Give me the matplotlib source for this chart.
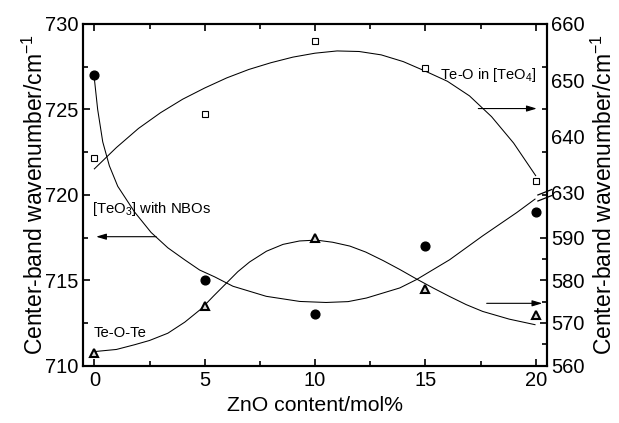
import matplotlib
matplotlib.use("Agg")
import matplotlib.pyplot as plt
import numpy as np

plt.rcParams["font.family"] = ["Liberation Sans", "DejaVu Sans"]
plt.rcParams["mathtext.fontset"] = "custom"
plt.rcParams["mathtext.rm"] = "Liberation Sans"
plt.rcParams["mathtext.it"] = "Liberation Sans:italic"

# ZnO content (mol%)
zno = [0, 5, 10, 15, 20]

# [TeO3] with NBOs, left axis (cm-1)
teo3 = [727.0, 715.0, 713.0, 717.0, 719.0]
# Te-O in [TeO4], right axis upper part (cm-1)
teo4 = [636.1, 644.0, 657.0, 652.1, 632.1]
# Te-O-Te, right axis lower part (cm-1)
teote = [562.9, 573.9, 589.8, 578.0, 571.9]

# fitted curves
teo3_fit_x = [0, 0.15, 0.38, 0.68, 1.06, 1.82, 2.57, 3.33, 4.09, 4.77, 5.45, 6.28,
              7.79, 9.31, 10.5, 11.5, 12.33, 13.84, 14.6, 16.1, 17.6, 19.14, 19.97]
teo3_fit_y = [726.8, 725.0, 723.1, 721.7, 720.5, 719.0, 717.8, 716.9, 716.2, 715.6,
              715.2, 714.65, 714.06, 713.76, 713.7, 713.75, 713.96, 714.55, 715.04,
              716.2, 717.6, 718.96, 719.75]

teo4_fit_x = list(range(0, 21))
teo4_fit_y = [634.2, 638.0, 641.4, 644.2, 646.6, 648.6, 650.4, 651.9, 653.1, 654.1,
              654.8, 655.2, 655.1, 654.5, 653.3, 651.6, 649.8, 647.2, 643.5, 638.8, 633.0]

teote_fit_x = [0, 1.0, 1.82, 2.5, 3.33, 4.1, 4.84, 5.4, 5.98, 6.5, 7.04, 7.8, 8.55,
               9.3, 10.06, 10.8, 11.58, 12.3, 13.09, 13.85, 14.6, 15.35, 16.1, 16.85,
               17.6, 18.8, 19.97]
teote_fit_y = [563.3, 563.8, 564.9, 565.9, 567.6, 570.2, 573.3, 576.3, 579.3, 582.0,
               584.3, 586.8, 588.4, 589.2, 589.4, 588.9, 588.0, 586.6, 584.6, 582.5,
               580.3, 578.2, 576.2, 574.3, 572.7, 570.9, 569.6]

left_ticks = [710, 715, 720, 725, 730]
right_upper_ticks = [630, 640, 650, 660]
right_lower_ticks = [560, 570, 580, 590]


def to_left(v):
    # broken right axis: map right-axis values onto the left-axis scale
    v = np.asarray(v, dtype=float)
    return np.where(v >= 620, 730 - (660 - v) * 0.3287, 710 + (v - 560) / 4.0)


fig = plt.figure(figsize=(6.19, 4.23), dpi=100)
ax = fig.add_axes([0.1346, 0.1355, 0.7486, 0.8078])

lw = 0.75
ax.plot(teo3_fit_x, teo3_fit_y, color="black", lw=lw)
ax.plot(teo4_fit_x, to_left(teo4_fit_y), color="black", lw=lw)
ax.plot(teote_fit_x, to_left(teote_fit_y), color="black", lw=lw)

ax.plot(zno, teo3, "o", color="black", ms=6.3, zorder=3)
ax.plot(zno, to_left(teo4), "s", mfc="white", mec="black", ms=5, mew=0.8, zorder=3)
ax.plot(zno, to_left(teote), "^", mfc="#d8d8d8", mec="black", ms=6, mew=1.5, zorder=3)

ax.set_xlim(-0.5, 20.5)
ax.set_ylim(710, 730)
ax.set_xticks([0, 5, 10, 15, 20])
ax.set_xticks(np.arange(2.5, 20, 5), minor=True)
ax.set_yticks(left_ticks)
ax.set_yticks(np.arange(712.5, 730, 5), minor=True)
ax.tick_params(which="both", direction="in", top=True, right=False, width=1.2,
               labelsize=14.5)
ax.tick_params(which="major", length=5)
ax.tick_params(which="minor", length=3.5)
for s in ax.spines.values():
    s.set_linewidth(1.5)

ax.set_xlabel("ZnO content/mol%", fontsize=15.3, labelpad=5)
ax.set_ylabel("Center-band wavenumber/cm$^{-1}$", fontsize=16.5, labelpad=-2)

ax2 = ax.twinx()
ax2.set_ylim(710, 730)
rt = right_lower_ticks + right_upper_ticks
ax2.set_yticks(to_left(rt))
ax2.set_yticklabels([str(t) for t in rt])
ax2.set_yticks([711.25, 713.75, 716.25, 720, 722.5, 725, 727.5], minor=True)
ax2.tick_params(which="both", direction="in", width=1.2, labelsize=14.5, pad=3)
ax2.tick_params(which="major", length=5)
ax2.tick_params(which="minor", length=3.5)
for i, t in enumerate(ax2.yaxis.get_major_ticks()):
    if rt[i] in right_upper_ticks:
        t.tick2line.set_markersize(0)
ax2.set_ylabel("Center-band wavenumber/cm$^{-1}$", fontsize=16.5, labelpad=5)
for s in ax2.spines.values():
    s.set_linewidth(1.5)

# axis break marks on the right spine
for y0 in (0.482, 0.4996):
    ax.plot([0.981, 1.011], [y0, y0 + 0.016], color="black", lw=0.9,
            transform=ax.transAxes, clip_on=False, zorder=5)

# labels and arrows
ax.text(15.66, 727.04, "Te-O in [TeO$_4$]", fontsize=10.5, va="center", ha="left")
ax.text(-0.12, 719.15, "[TeO$_3$] with NBOs", fontsize=10.7, va="center", ha="left")
ax.text(-0.05, 711.9, "Te-O-Te", fontsize=10.7, va="center", ha="left")

arrow = dict(arrowstyle="-|>,head_length=0.6,head_width=0.18", color="black", lw=0.8,
             shrinkA=0, shrinkB=0)
ax.annotate("", xy=(20.05, 725.05), xytext=(17.4, 725.05), arrowprops=arrow)
ax.annotate("", xy=(0.08, 717.55), xytext=(2.8, 717.55), arrowprops=arrow)
ax.annotate("", xy=(20.3, 713.65), xytext=(17.78, 713.65), arrowprops=arrow)

fig.savefig("out.png", dpi=100)
